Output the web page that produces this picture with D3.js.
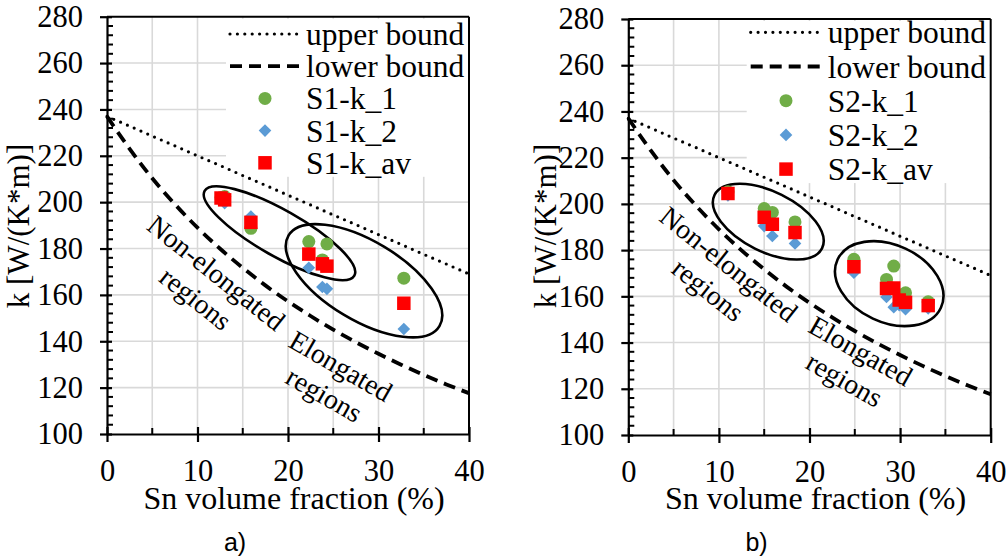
<!DOCTYPE html>
<html><head><meta charset="utf-8">
<script src="https://cdn.jsdelivr.net/npm/d3@7"></script>
<style>body{margin:0;background:#fff}svg{display:block}
svg text{font-family:"Liberation Serif","Times New Roman","DejaVu Serif",serif;}
svg text.sans{font-family:"Liberation Sans",Arial,sans-serif;}
</style>
</head><body>
<script>
// ---------- data ----------
const xTicks = [0, 10, 20, 30, 40];
const yTicks = [100, 120, 140, 160, 180, 200, 220, 240, 260, 280];
const boundX = [0, 2.5, 5, 7.5, 10, 12.5, 15, 17.5, 20, 22.5, 25, 27.5, 30, 32.5, 35, 37.5, 40];
const upperBound = [237, 232.8, 228.5, 224.3, 220, 215.8, 211.5, 207.3, 203, 198.8, 194.5, 190.3, 186, 181.8, 177.5, 173.3, 169];
const lowerBound = [237, 223, 210.3, 199.1, 189, 179.9, 171.7, 164.1, 157.2, 150.9, 145, 139.6, 134.6, 129.9, 125.5, 121.4, 117.6];

const S1_x   = [12.6, 13.0, 15.9, 22.3, 23.8, 24.3, 32.8];
const S1_k1  = [202.0, 202.4, 188.7, 183.0, 175.1, 182.0, 167.2];
const S1_k2  = [201.3, 199.6, 193.8, 171.7, 163.4, 162.6, 145.3];
const S1_kav = [201.8, 201.0, 191.3, 177.6, 173.4, 172.4, 156.4];

const S2_x   = [11.0, 15.0, 15.9, 18.4, 24.9, 28.5, 29.3, 29.9, 30.6, 33.1];
const S2_k1  = [205.3, 198.0, 196.3, 192.2, 176.0, 167.3, 173.1, 160.6, 161.5, 157.6];
const S2_k2  = [203.7, 190.4, 186.1, 182.9, 170.2, 159.7, 155.3, 156.2, 154.4, 154.8];
const S2_kav = [204.5, 194.2, 191.2, 187.6, 172.8, 163.4, 163.6, 158.4, 157.4, 156.0];

const legendS1 = ["upper bound", "lower bound", "S1-k_1", "S1-k_2", "S1-k_av"];
const legendS2 = ["upper bound", "lower bound", "S2-k_1", "S2-k_2", "S2-k_av"];
const xTitle = "Sn volume fraction (%)";
const yTitle = "k [W/(K*m)]";
const panelLabels = ["a)", "b)"];
const annoText1 = ["Non-elongated", "regions"];
const annoText2 = ["Elongated", "regions"];

// ---------- styles ----------
const C_GREEN = "#70AD47", C_BLUE = "#5B9BD5", C_RED = "#FF0000";

const panels = [
  { left: 107, right: 469, top: 16.7, bottom: 434,
    xs: S1_x, k1: S1_k1, k2: S1_k2, kav: S1_kav, legend: legendS1, label: panelLabels[0],
    legY0: 34, legDy: 32.2, legLineX: [230, 300], legMarkX: 265, legTextX: 306,
    yTitleX: 18, ellipses: [
      { cx: 19.06, cy: 186.6, rx: 86, ry: 23, rot: 29.5 },
      { cx: 28.4, cy: 166.1, rx: 88, ry: 39.5, rot: 31 } ],
    annos: [ { cx: 12.1, cy: 169.6, rot: 38.5, lines: annoText1 },
             { cx: 25.85, cy: 129.4, rot: 30, lines: annoText2 } ] },
  { left: 628.3, right: 990.7, top: 19, bottom: 435,
    xs: S2_x, k1: S2_k1, k2: S2_k2, kav: S2_kav, legend: legendS2, label: panelLabels[1],
    legY0: 32.3, legDy: 34.2, legLineX: [750.7, 820], legMarkX: 786, legTextX: 827.7,
    yTitleX: 545, ellipses: [
      { cx: 15.45, cy: 192.3, rx: 60, ry: 30, rot: 26.4 },
      { cx: 28.8, cy: 165.5, rx: 57, ry: 38.6, rot: 25 } ],
    annos: [ { cx: 11.1, cy: 174.0, rot: 38.5, lines: annoText1 },
             { cx: 25.67, cy: 136.5, rot: 29.5, lines: annoText2 } ] }
];

const svg = d3.select("body").append("svg").attr("width", 1008).attr("height", 558)
  .style("background", "#fff");

panels.forEach(p => {
  const g = svg.append("g");
  const x = d3.scaleLinear().domain([0, 40]).range([p.left, p.right]);
  const y = d3.scaleLinear().domain([100, 280]).range([p.bottom, p.top]);

  // grid
  g.append("g").selectAll("line").data(d3.range(5, 40, 5)).join("line")
    .attr("x1", d => x(d)).attr("x2", d => x(d)).attr("y1", y(100)).attr("y2", y(280))
    .attr("stroke", "#D9D9D9").attr("stroke-width", 1.6);
  g.append("g").selectAll("line").data(yTicks.slice(1, -1)).join("line")
    .attr("y1", d => y(d)).attr("y2", d => y(d)).attr("x1", x(0)).attr("x2", x(40))
    .attr("stroke", "#D9D9D9").attr("stroke-width", 1.6);

  // legend background (legend sits over the plot area)
  const lg = g.append("g");
  lg.append("rect").attr("x", p.legLineX[0] - 4).attr("y", y(280) + 2)
    .attr("width", x(40) - p.legLineX[0] + 3).attr("height", p.legY0 + 4 * p.legDy + 12 - y(280))
    .attr("fill", "#fff");

  // frame top/right
  g.append("line").attr("x1", x(0)).attr("x2", x(40)).attr("y1", y(280)).attr("y2", y(280))
    .attr("stroke", "#000").attr("stroke-width", 2);
  g.append("line").attr("x1", x(40)).attr("x2", x(40)).attr("y1", y(100)).attr("y2", y(280))
    .attr("stroke", "#000").attr("stroke-width", 2);

  // x axis
  const xa = g.append("g").attr("transform", `translate(0,${y(100)})`)
    .call(d3.axisBottom(x).tickValues(xTicks).tickSize(8).tickPadding(17).tickSizeOuter(0));
  xa.attr("font-family", null).attr("font-size", null);
  xa.select(".domain").attr("stroke-width", 2.2);
  xa.selectAll(".tick line").attr("stroke-width", 2.2).attr("y1", -7);
  xa.selectAll("text").style("font-size", "30.5px").attr("fill", "#000");
  g.append("g").selectAll("line").data(d3.range(5, 40, 10)).join("line")
    .attr("x1", d => x(d)).attr("x2", d => x(d)).attr("y1", y(100)).attr("y2", y(100) - 6)
    .attr("stroke", "#000").attr("stroke-width", 2);

  // y axis
  const ya = g.append("g").attr("transform", `translate(${x(0)},0)`)
    .call(d3.axisLeft(y).tickValues(yTicks).tickSize(7).tickPadding(17).tickSizeOuter(0));
  ya.attr("font-family", null).attr("font-size", null);
  ya.select(".domain").attr("stroke-width", 2.2);
  ya.selectAll(".tick line").attr("stroke-width", 2.2).attr("x1", 5);
  ya.selectAll("text").style("font-size", "30.5px").attr("fill", "#000");
  g.append("g").selectAll("line").data(d3.range(100, 280, 4).filter(v => v % 20 !== 0)).join("line")
    .attr("y1", d => y(d)).attr("y2", d => y(d)).attr("x1", x(0)).attr("x2", x(0) + 6)
    .attr("stroke", "#000").attr("stroke-width", 2);

  // bounds
  const line = d3.line().x((d, i) => x(boundX[i])).y(d => y(d)).curve(d3.curveMonotoneX);
  g.append("path").attr("d", line(upperBound)).attr("fill", "none").attr("stroke", "#000")
    .attr("stroke-width", 3.2).attr("stroke-dasharray", "0 7.4").attr("stroke-linecap", "round");
  g.append("path").attr("d", line(lowerBound)).attr("fill", "none").attr("stroke", "#000")
    .attr("stroke-width", 3.8).attr("stroke-dasharray", "12 7");

  // ellipses
  p.ellipses.forEach(e => {
    g.append("ellipse").attr("cx", 0).attr("cy", 0).attr("rx", e.rx).attr("ry", e.ry)
      .attr("transform", `translate(${x(e.cx)},${y(e.cy)}) rotate(${e.rot})`)
      .attr("fill", "none").attr("stroke", "#000").attr("stroke-width", 2.6);
  });

  // markers
  const circ = d3.symbol().type(d3.symbolCircle).size(133)();
  const diam = d3.symbol().type(d3.symbolSquare).size(80)();
  const sq = d3.symbol().type(d3.symbolSquare).size(182)();
  g.append("g").selectAll("path").data(p.k1).join("path").attr("d", circ)
    .attr("transform", (d, i) => `translate(${x(p.xs[i])},${y(d)})`).attr("fill", C_GREEN);
  g.append("g").selectAll("path").data(p.k2).join("path").attr("d", diam)
    .attr("transform", (d, i) => `translate(${x(p.xs[i])},${y(d)}) rotate(45)`).attr("fill", C_BLUE);
  g.append("g").selectAll("path").data(p.kav).join("path").attr("d", sq)
    .attr("transform", (d, i) => `translate(${x(p.xs[i])},${y(d)})`).attr("fill", C_RED);

  // annotations
  p.annos.forEach(a => {
    const t = g.append("g").attr("transform", `translate(${x(a.cx)},${y(a.cy)}) rotate(${a.rot})`);
    a.lines.forEach((s, i) => t.append("text").attr("x", 0).attr("y", i * 33).attr("dy", "0.35em")
      .attr("text-anchor", "middle").style("font-size", "28px").text(s));
  });

  // legend entries
  p.legend.forEach((s, i) => {
    const ly = p.legY0 + i * p.legDy;
    if (i === 0) lg.append("line").attr("x1", p.legLineX[0]).attr("x2", p.legLineX[1]).attr("y1", ly).attr("y2", ly)
      .attr("stroke", "#000").attr("stroke-width", 3.2).attr("stroke-dasharray", "0 7.4").attr("stroke-linecap", "round");
    if (i === 1) lg.append("line").attr("x1", p.legLineX[0]).attr("x2", p.legLineX[1]).attr("y1", ly).attr("y2", ly)
      .attr("stroke", "#000").attr("stroke-width", 3.8).attr("stroke-dasharray", "12 7");
    if (i === 2) lg.append("path").attr("d", circ).attr("transform", `translate(${p.legMarkX},${ly})`).attr("fill", C_GREEN);
    if (i === 3) lg.append("path").attr("d", diam).attr("transform", `translate(${p.legMarkX},${ly}) rotate(45)`).attr("fill", C_BLUE);
    if (i === 4) lg.append("path").attr("d", sq).attr("transform", `translate(${p.legMarkX},${ly})`).attr("fill", C_RED);
    lg.append("text").attr("x", p.legTextX).attr("y", ly).attr("dy", "0.35em")
      .style("font-size", "31.5px").text(s);
  });

  // titles
  g.append("text").attr("x", (x(0) + x(40)) / 2 + 6).attr("y", 509)
    .attr("text-anchor", "middle").style("font-size", "32px").text(xTitle);
  g.append("text").attr("transform", `translate(${p.yTitleX},226) rotate(-90)`).attr("dy", "0.35em")
    .attr("text-anchor", "middle").style("font-size", "31px").text(yTitle);
  g.append("text").attr("class", "sans").attr("x", (x(0) + x(40)) / 2 - 53).attr("y", 551)
    .attr("text-anchor", "middle").style("font-size", "25px").text(p.label);
});
</script>
</body></html>
